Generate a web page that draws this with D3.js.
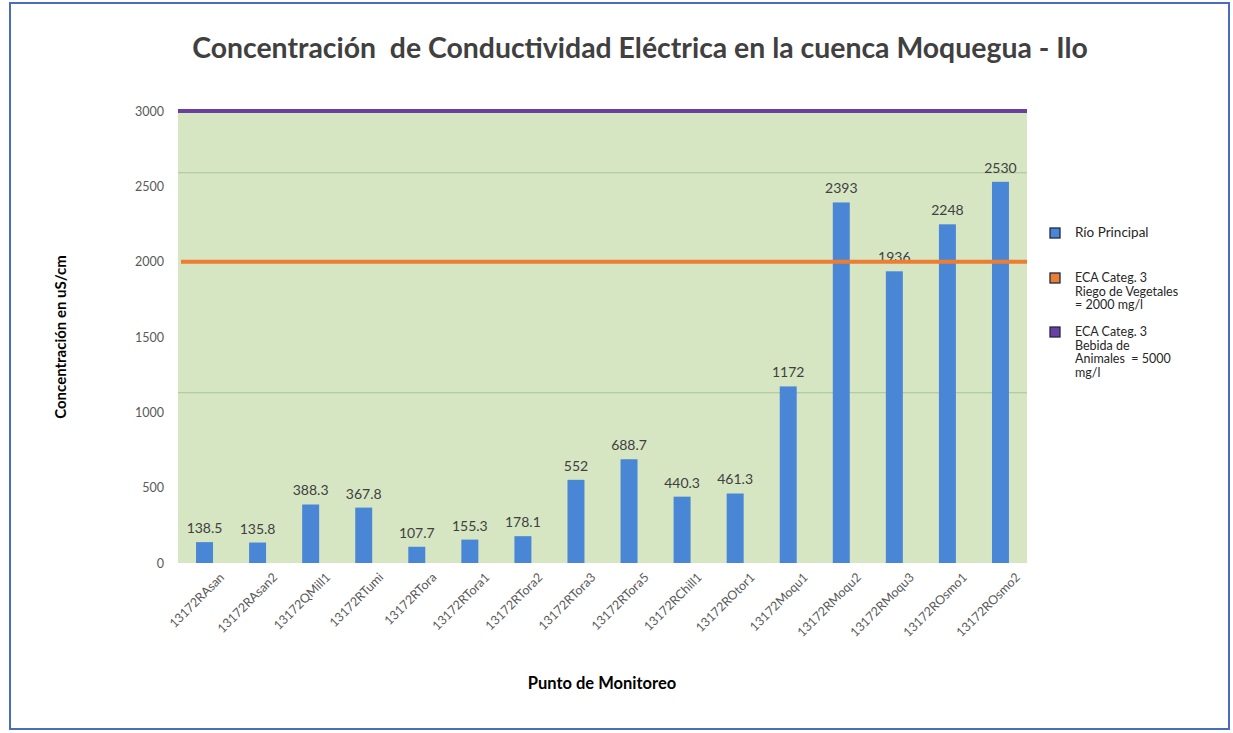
<!DOCTYPE html>
<html>
<head>
<meta charset="utf-8">
<script src="https://cdn.jsdelivr.net/npm/d3@7"></script>
<style>
  body { margin: 0; background: #fff; }
  svg { display: block; font-family: Lato, "Open Sans", sans-serif; }
</style>
</head>
<body>
<svg id="chart" width="1233" height="733"></svg>
<script>
// Puntos de monitoreo (eje X)
var puntos = ["13172RAsan", "13172RAsan2", "13172QMill1", "13172RTumi", "13172RTora",
    "13172RTora1", "13172RTora2", "13172RTora3", "13172RTora5", "13172RChill1",
    "13172ROtor1", "13172Moqu1", "13172RMoqu2", "13172RMoqu3", "13172ROsmo1", "13172ROsmo2"];

// Conductividad en uS/cm
var valores = [138.5, 135.8, 388.3, 367.8, 107.7, 155.3, 178.1, 552, 688.7, 440.3,
    461.3, 1172, 2393, 1936, 2248, 2530];

var etiquetas = ["138.5", "135.8", "388.3", "367.8", "107.7", "155.3", "178.1", "552", "688.7", "440.3",
    "461.3", "1172", "2393", "1936", "2248", "2530"];

var yTicks = [0, 500, 1000, 1500, 2000, 2500, 3000];
var gridLines = [1130, 2590]; // faint lines seen on the plot area

var ecaRiego = 2000;
var ecaBebida = 3000; // line drawn at top of the axis

var legendItems = [
    { color: "#4a86d6", lines: ["Río Principal"] },
    { color: "#ed7d31", lines: ["ECA Categ. 3", "Riego de Vegetales", "= 2000 mg/l"] },
    { color: "#6a3fa0", lines: ["ECA Categ. 3", "Bebida de", "Animales  = 5000", "mg/l"] }
];

const svg = d3.select("#chart");

const plotLeft = 178, plotRight = 1027, plotTop = 111, plotBottom = 563;

// outer blue frame
svg.append("rect")
    .attr("x", 10).attr("y", 3)
    .attr("width", 1219).attr("height", 726)
    .attr("fill", "none")
    .attr("stroke", "#4a6cc0")
    .attr("stroke-width", 2);

var xScale = d3.scaleBand()
    .domain(puntos)
    .range([plotLeft, plotRight])
    .paddingInner(0.68)
    .paddingOuter(0.34);

var yScale = d3.scaleLinear()
    .domain([0, 3000])
    .range([plotBottom, plotTop]);

// plot background
svg.append("rect")
    .attr("x", plotLeft).attr("y", yScale(3000))
    .attr("width", plotRight - plotLeft)
    .attr("height", plotBottom - yScale(3000))
    .attr("fill", "#d6e6c3");

svg.selectAll(".grid")
    .data(gridLines)
    .enter()
    .append("line")
    .attr("class", "grid")
    .attr("x1", plotLeft).attr("x2", plotRight)
    .attr("y1", function(d) { return yScale(d); })
    .attr("y2", function(d) { return yScale(d); })
    .attr("stroke", "#a9c59a")
    .attr("stroke-width", 1);

// Y axis (labels only)
var yAxis = d3.axisLeft(yScale)
    .tickValues(yTicks)
    .tickFormat(d3.format("d"))
    .tickSize(0)
    .tickPadding(14);

var yG = svg.append("g")
    .attr("transform", "translate(" + plotLeft + ",0)")
    .call(yAxis);
yG.select(".domain").remove();
yG.selectAll("text")
    .attr("fill", "#595959")
    .style("font-size", "12.5px")
    .style("font-family", "Lato, sans-serif");

// X axis (rotated labels)
var xAxis = d3.axisBottom(xScale).tickSize(0).tickPadding(14);
var xG = svg.append("g")
    .attr("transform", "translate(0," + plotBottom + ")")
    .call(xAxis);
xG.select(".domain").remove();
xG.selectAll("text")
    .attr("fill", "#595959")
    .style("font-size", "12.5px")
    .style("font-family", "Lato, sans-serif")
    .style("text-anchor", "end")
    .attr("dx", "0.3em")
    .attr("dy", "0.9em")
    .attr("transform", "rotate(-45)");

// bars
svg.selectAll(".bar")
    .data(valores)
    .enter()
    .append("rect")
    .attr("class", "bar")
    .attr("x", function(d, i) { return xScale(puntos[i]); })
    .attr("y", function(d) { return yScale(d); })
    .attr("width", xScale.bandwidth())
    .attr("height", function(d) { return plotBottom - yScale(d); })
    .attr("fill", "#4a86d6");

// data labels
svg.selectAll(".lbl")
    .data(valores)
    .enter()
    .append("text")
    .attr("class", "lbl")
    .attr("x", function(d, i) { return xScale(puntos[i]) + xScale.bandwidth() / 2; })
    .attr("y", function(d) { return yScale(d) - 9; })
    .attr("text-anchor", "middle")
    .attr("fill", "#404040")
    .style("font-size", "14px")
    .text(function(d, i) { return etiquetas[i]; });

// ECA lines
svg.append("line")
    .attr("x1", plotLeft + 3).attr("x2", plotRight)
    .attr("y1", yScale(ecaRiego)).attr("y2", yScale(ecaRiego))
    .attr("stroke", "#ed7d31")
    .attr("stroke-width", 4);

svg.append("line")
    .attr("x1", plotLeft).attr("x2", plotRight)
    .attr("y1", yScale(ecaBebida)).attr("y2", yScale(ecaBebida))
    .attr("stroke", "#6a3fa0")
    .attr("stroke-width", 4);

// title
svg.append("text")
    .attr("x", 640)
    .attr("y", 58)
    .attr("text-anchor", "middle")
    .attr("fill", "#404040")
    .style("font-size", "28.4px")
    .style("font-weight", "bold")
    .style("white-space", "pre")
    .text("Concentración  de Conductividad Eléctrica en la cuenca Moquegua - Ilo");

// axis titles
svg.append("text")
    .attr("transform", "translate(66," + 337 + ") rotate(-90)")
    .attr("text-anchor", "middle")
    .attr("fill", "#000")
    .style("font-size", "15px")
    .style("font-weight", "bold")
    .text("Concentración en uS/cm");

svg.append("text")
    .attr("x", 602)
    .attr("y", 689)
    .attr("text-anchor", "middle")
    .attr("fill", "#000")
    .style("font-size", "16.5px")
    .style("font-weight", "bold")
    .text("Punto de Monitoreo");

// legend
var legendY = [237, 282, 336];
var legend = svg.selectAll(".legend")
    .data(legendItems)
    .enter()
    .append("g")
    .attr("class", "legend")
    .attr("transform", function(d, i) { return "translate(1050," + legendY[i] + ")"; });

legend.append("rect")
    .attr("x", 0).attr("y", -9)
    .attr("width", 10).attr("height", 10)
    .attr("fill", function(d) { return d.color; })
    .attr("stroke", "#1f2a44")
    .attr("stroke-width", 1.3);

legend.each(function(d) {
    var t = d3.select(this).append("text")
        .attr("x", 25).attr("y", 0)
        .attr("fill", "#262626")
        .style("font-size", d.lines.length === 1 ? "13.5px" : "12.5px")
        .style("white-space", "pre");
    d.lines.forEach(function(line, j) {
        t.append("tspan")
            .attr("x", 25)
            .attr("dy", j === 0 ? 0 : 13.5)
            .text(line);
    });
});
</script>
</body>
</html>
